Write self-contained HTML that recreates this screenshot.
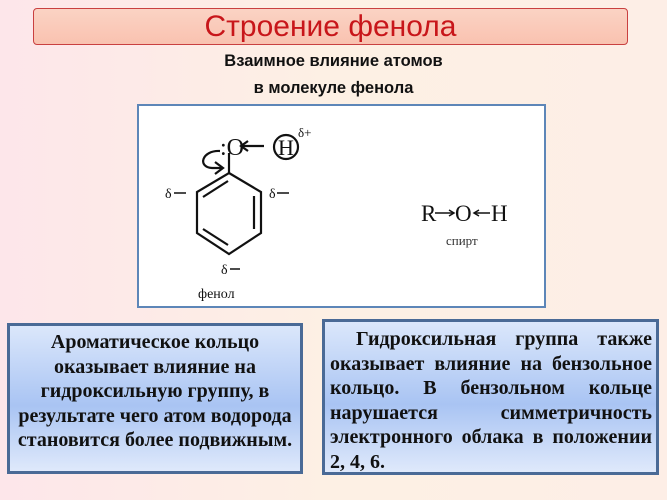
<!DOCTYPE html>
<html><head><meta charset="utf-8"><style>
body{margin:0;width:667px;height:500px;overflow:hidden;background:linear-gradient(90deg,#fde6ea 0%,#fdf0e4 50%,#fdeee6 100%);font-family:"Liberation Sans",sans-serif;position:relative}
.t{position:absolute;left:33px;top:8px;width:593px;height:35px;border:1.5px solid #c94040;border-radius:4px;background:linear-gradient(#fbd3c4,#f9c2b0);text-align:center;font-size:30px;line-height:35px;color:#c8161a}
.s{position:absolute;left:0;width:667px;text-align:center;font-weight:bold;font-size:16.5px;color:#111}
.img{position:absolute;left:137px;top:104px;width:405px;height:200px;border:2px solid #5d86b8;background:#fff}
.box{position:absolute;border:3px solid #4a6a96;background:linear-gradient(#dbe7fb,#a9c4f3 55%,#dfe9fb);box-sizing:border-box}
.in{position:absolute;font-family:"Liberation Serif",serif;font-weight:bold;font-size:20px;line-height:24.5px;color:#111;transform-origin:0 0}
</style></head><body>
<div class="t">Строение фенола</div>
<div class="s" style="top:52px">Взаимное влияние атомов</div>
<div class="s" style="top:79px">в молекуле фенола</div>
<div class="img">
<svg width="405" height="200" viewBox="137 104 405 200" style="position:absolute;left:0;top:0" font-family="Liberation Serif,serif">
<g stroke="#111" stroke-width="2.2" fill="none">
<polygon points="227,171 259,190 259,231 227,252 195,231 195,190"/>
<line x1="201" y1="195" x2="226" y2="179"/>
<line x1="252" y1="194" x2="252" y2="227"/>
<line x1="201" y1="227" x2="226" y2="243"/>
<line x1="227" y1="151" x2="227" y2="171"/>
<path d="M218,149 C200,148 195,165 210,166 L220,166"/>
<path d="M213,160 L221,166 L213,172"/>
<line x1="240" y1="144" x2="262" y2="144"/>
<path d="M246,139 L239,144 L246,149"/>
<circle cx="284" cy="145" r="12"/>
<line x1="172" y1="191" x2="184" y2="191" stroke-width="1.5"/>
<line x1="275" y1="191" x2="287" y2="191" stroke-width="1.5"/>
<line x1="228" y1="267" x2="238" y2="267" stroke-width="1.5"/>
<line x1="433" y1="211" x2="451" y2="211" stroke-width="1.5"/>
<path d="M447,208 L452,211 L447,214" stroke-width="1.5"/>
<line x1="472" y1="211" x2="488" y2="211" stroke-width="1.5"/>
<path d="M477,208 L472,211 L477,214" stroke-width="1.5"/>
</g>
<text x="218" y="153" font-size="24" fill="#111">:O</text>
<text x="276" y="153" font-size="22" fill="#111">H</text>
<text x="296" y="135" font-size="13" fill="#111">δ+</text>
<text x="163" y="196" font-size="14" fill="#111">δ</text>
<text x="267" y="196" font-size="14" fill="#111">δ</text>
<text x="219" y="272" font-size="14" fill="#111">δ</text>
<text x="196" y="296" font-size="14" fill="#111">фенол</text>
<text x="419" y="219" font-size="23" fill="#111">R</text>
<text x="453" y="219" font-size="23" fill="#111">O</text>
<text x="489" y="219" font-size="23" fill="#111">H</text>
<text x="444" y="243" font-size="13" fill="#333">спирт</text>
</svg></div>
<div class="box" style="left:7px;top:323px;width:296px;height:151px">
<div class="in" style="left:0;top:4px;width:290px;text-align:center">Ароматическое кольцо<br>оказывает влияние на<br>гидроксильную группу, в<br>результате чего атом водорода<br>становится более подвижным.</div></div>
<div class="box" style="left:322px;top:319px;width:337px;height:156px">
<div class="in" style="left:5px;width:322px;text-align:justify;top:5px"><span style="padding-left:26px"></span>Гидроксильная группа также оказывает влияние на бензольное кольцо. В бензольном кольце нарушается симметричность электронного облака в положении 2, 4, 6.</div></div>
</body></html>
